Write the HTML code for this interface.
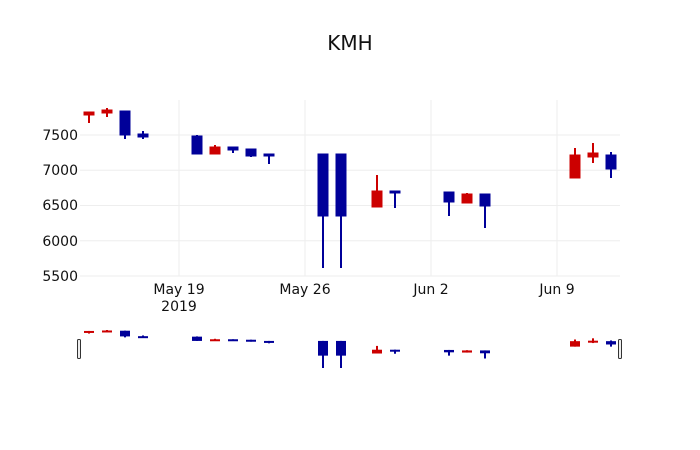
<!DOCTYPE html>
<html><head><meta charset="utf-8"><style>
html,body{margin:0;padding:0;background:#fff;}
svg{display:block;font-family:"DejaVu Sans","Liberation Sans",sans-serif;}
</style></head><body>
<svg id="s" width="700" height="450" xmlns="http://www.w3.org/2000/svg">
<rect width="700" height="450" fill="#fff"/>
<text x="350" y="50" text-anchor="middle" font-size="20" fill="#111">KMH</text>
<g stroke="#eee" stroke-width="1">
<line x1="80" x2="620" y1="135" y2="135"/>
<line x1="80" x2="620" y1="170.3" y2="170.3"/>
<line x1="80" x2="620" y1="205.5" y2="205.5"/>
<line x1="80" x2="620" y1="240.8" y2="240.8"/>
<line x1="80" x2="620" y1="276" y2="276"/>
<line x1="179" x2="179" y1="100" y2="276"/>
<line x1="305" x2="305" y1="100" y2="276"/>
<line x1="431" x2="431" y1="100" y2="276"/>
<line x1="557" x2="557" y1="100" y2="276"/>
</g>
<g font-size="14" fill="#111" text-anchor="end">
<text x="78" y="140">7500</text>
<text x="78" y="175">7000</text>
<text x="78" y="210">6500</text>
<text x="78" y="246">6000</text>
<text x="78" y="281">5500</text>
</g>
<g font-size="14" fill="#111" text-anchor="middle">
<text x="179" y="294">May 19</text>
<text x="179" y="311">2019</text>
<text x="305" y="294">May 26</text>
<text x="431" y="294">Jun 2</text>
<text x="557" y="294">Jun 9</text>
</g>
<g id="main"></g>
<g id="slide"></g>
<rect x="77.5" y="339.5" width="3" height="19" rx="1" fill="#eee" stroke="#333" stroke-width="1"/>
<rect x="618.5" y="339.5" width="3" height="19" rx="1" fill="#eee" stroke="#333" stroke-width="1"/>
</svg>
<script>
var d=[[0,112,115,112,123,1],[1,110,113,108,117,1],[2,111,135,111,139,0],[3,134,137,131,139,0],
[6,136,154,135,154,0],[7,147,154,145,154,1],[8,147,150,147,153,0],[9,149,156,149,157,0],[10,154,156,154,164,0],
[13,154,216,154,268,0],[14,154,216,154,268,0],[16,191,207,175,207,1],[17,191,193,191,208,0],
[20,192,202,192,216,0],[21,194,203,193,203,1],[22,194,206,194,228,0],
[27,155,178,148,178,1],[28,153,157,143,163,1],[29,155,169,152,178,0]];
var ns="http://www.w3.org/2000/svg",m=document.getElementById('main'),sl=document.getElementById('slide');
function el(p,t,a){var e=document.createElementNS(ns,t);for(var k in a)e.setAttribute(k,a[k]);p.appendChild(e);}
function sy(y){return 330+(y-108)*0.2375;}
d.forEach(function(c){var x=89+c[0]*18,col=c[5]?'#cc0000':'#000099';
el(m,'line',{x1:x,x2:x,y1:c[3],y2:c[4],stroke:col,'stroke-width':2});
el(m,'rect',{x:x-5,y:c[1],width:10,height:Math.max(2,c[2]-c[1]),fill:col,stroke:col,'stroke-width':1});
el(sl,'line',{x1:x,x2:x,y1:sy(c[3]),y2:sy(c[4]),stroke:col,'stroke-width':2});
el(sl,'rect',{x:x-5,y:sy(c[1]),width:10,height:Math.max(2,sy(c[2])-sy(c[1])),fill:col});
});
</script>
</body></html>
